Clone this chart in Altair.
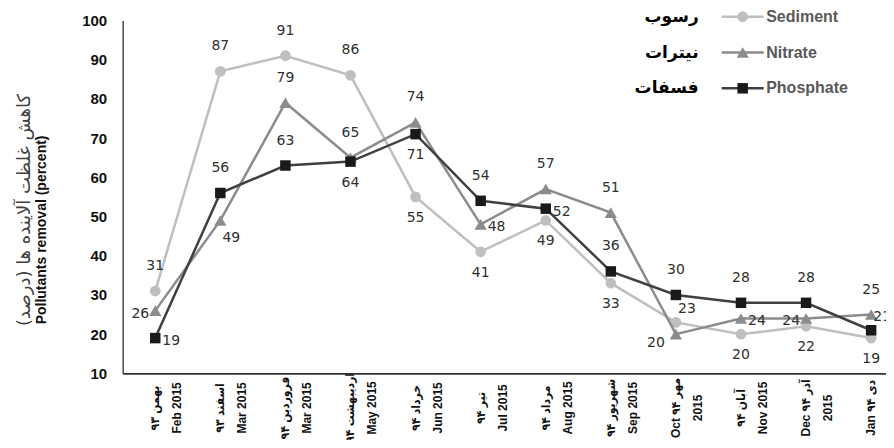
import altair as alt
import pandas as pd

# ---------------- data ----------------
months = [
    "بهمن ۹۳|Feb 2015",
    "اسفند ۹۳|Mar 2015",
    "فروردین ۹۴|Mar 2015",
    "اردیبهشت ۹۴|May 2015",
    "خرداد ۹۴|Jun 2015",
    "تیر ۹۴|Jul 2015",
    "مرداد ۹۴|Aug 2015",
    "شهریور ۹۴|Sep 2015",
    "Oct مهر ۹۴|2015",
    "آبان ۹۴|Nov 2015",
    "Dec آذر ۹۴|2015",
    "Jan دی ۹۴|2016",
]
sediment = [31, 87, 91, 86, 55, 41, 49, 33, 23, 20, 22, 19]
nitrate = [26, 49, 79, 65, 74, 48, 57, 51, 20, 24, 24, 25]
phosphate = [19, 56, 63, 64, 71, 54, 52, 36, 30, 28, 28, 21]

series_en = ["Sediment", "Nitrate", "Phosphate"]
series_fa = ["رسوب", "نیترات", "فسفات"]

# where each data label sits relative to its point
place_sediment = ["above", "above", "above", "above", "below", "below",
                  "below", "below", "ar", "below", "below", "below"]
place_nitrate = ["left", "br", "above", "above", "above", "right",
                 "above", "above", "bl", "right", "left", "above"]
place_phosphate = ["right", "above", "above", "below", "below", "above",
                   "right", "above", "above", "above", "above", "ar"]

y_title_en = "Pollutants removal (percent)"
y_title_fa = "کاهش غلظت آلاینده ها (درصد)"

# ---------------- table ----------------
rows = []
for name, vals, places in [("Sediment", sediment, place_sediment),
                           ("Nitrate", nitrate, place_nitrate),
                           ("Phosphate", phosphate, place_phosphate)]:
    for m, v, p in zip(months, vals, places):
        rows.append({"month": m, "series": name, "value": v, "place": p})
df = pd.DataFrame(rows)

# ---------------- styles ----------------
styles = {
    "Sediment": {"line": "#BFBFBF", "mark": "#BFBFBF", "shape": "circle", "size": 115},
    "Nitrate": {"line": "#8C8C8C", "mark": "#8C8C8C", "shape": "triangle-up", "size": 150},
    "Phosphate": {"line": "#404040", "mark": "#1A1A1A", "shape": "square", "size": 110},
}
placements = {
    "above": ("center", 0, -25),
    "below": ("center", 0, 21),
    "left": ("right", -6, 3),
    "right": ("left", 7, 3),
    "bl": ("right", -11, 9),
    "br": ("center", 11, 18),
    "ar": ("center", 11, -13),
}

LAB_FONT = "Liberation Sans, Arial, DejaVu Sans, sans-serif"
XLAB_FONT = "Liberation Sans, DejaVu Sans Condensed, DejaVu Sans, sans-serif"
W, H = 763, 353

x_enc = alt.X(
    "month:N",
    sort=months,
    scale=alt.Scale(type="band", range=[0, 781], paddingInner=0, paddingOuter=0),
    axis=alt.Axis(
        title=None,
        labelExpr="split(datum.value, '|')",
        labelAngle=270,
        labelAlign="center",
        labelBaseline="middle",
        labelPadding=34,
        labelLineHeight=22,
        labelFont=XLAB_FONT,
        labelFontSize=12,
        labelFontWeight="bold",
        labelColor="#111111",
        ticks=False,
        domainColor="#333333",
        domainWidth=1.6,
        labelOverlap=False,
        labelBound=False,
        labelFlush=False,
        grid=False,
    ),
)
y_enc = alt.Y(
    "value:Q",
    scale=alt.Scale(domain=[10, 100], nice=False, zero=False),
    axis=alt.Axis(
        values=list(range(10, 101, 10)),
        title=y_title_en,
        titleX=-80.7,
        titleY=209,
        titleAngle=270,
        titleAlign="center",
        titleBaseline="middle",
        titleFont=LAB_FONT,
        titleFontSize=14,
        titleFontWeight="bold",
        titleColor="#111111",
        labelFont=LAB_FONT,
        labelFontSize=15,
        labelFontWeight="bold",
        labelColor="#111111",
        labelPadding=16,
        ticks=False,
        domainColor="#555555",
        domainWidth=1.6,
        grid=False,
    ),
)

base = alt.Chart(df)
layers = []
for name in series_en:
    st = styles[name]
    sub = base.transform_filter(alt.datum.series == name)
    layers.append(
        sub.mark_line(strokeWidth=2.5, color=st["line"]).encode(x=x_enc, y=y_enc)
    )
    layers.append(
        sub.mark_point(filled=True, opacity=1, shape=st["shape"], size=st["size"],
                       color=st["mark"]).encode(x=x_enc, y=y_enc)
    )

for code, (align, dx, dy) in placements.items():
    layers.append(
        base.transform_filter(alt.datum.place == code)
        .mark_text(align=align, baseline="middle", dx=dx, dy=dy,
                   font="DejaVu Sans", fontSize=14, color="#303030")
        .encode(x=x_enc, y=y_enc, text="value:Q")
    )

# ---------------- legend (drawn by hand) ----------------
one = pd.DataFrame({"k": [0]})
for i, name in enumerate(series_en):
    st = styles[name]
    ly = -3.7 + i * 35.8
    c1 = alt.Chart(one)
    layers.append(
        c1.mark_rule(strokeWidth=2.5, color=st["line"]).encode(
            x=alt.value(599), x2=alt.value(641), y=alt.value(ly))
    )
    layers.append(
        c1.mark_point(filled=True, opacity=1, shape=st["shape"], size=st["size"],
                      color=st["mark"]).encode(x=alt.value(620), y=alt.value(ly))
    )
    layers.append(
        c1.mark_text(align="left", baseline="middle", font=LAB_FONT, fontSize=16,
                     fontWeight="bold", color="#595959").encode(
            x=alt.value(643.5), y=alt.value(ly), text=alt.value(name))
    )
    layers.append(
        c1.mark_text(align="right", baseline="middle", font="DejaVu Sans", fontSize=17,
                     fontWeight="bold", color="#000000").encode(
            x=alt.value(576), y=alt.value(ly), text=alt.value(series_fa[i]))
    )

# Persian line of the y-axis title
layers.append(
    alt.Chart(one).mark_text(angle=270, align="center", baseline="middle",
                             font="DejaVu Sans", fontSize=18, color="#404040").encode(
        x=alt.value(-98), y=alt.value(189.6), text=alt.value(y_title_fa))
)

chart = (
    alt.layer(*layers)
    .properties(
        width=W,
        height=H,
        autosize=alt.AutoSizeParams(type="none"),
        padding={"left": 114.7, "top": 12.4, "right": 0, "bottom": 66.6},
        background="white",
    )
    .configure_view(stroke=None)
)

chart.save("out.html", embed_options={"renderer": "svg", "actions": False})
